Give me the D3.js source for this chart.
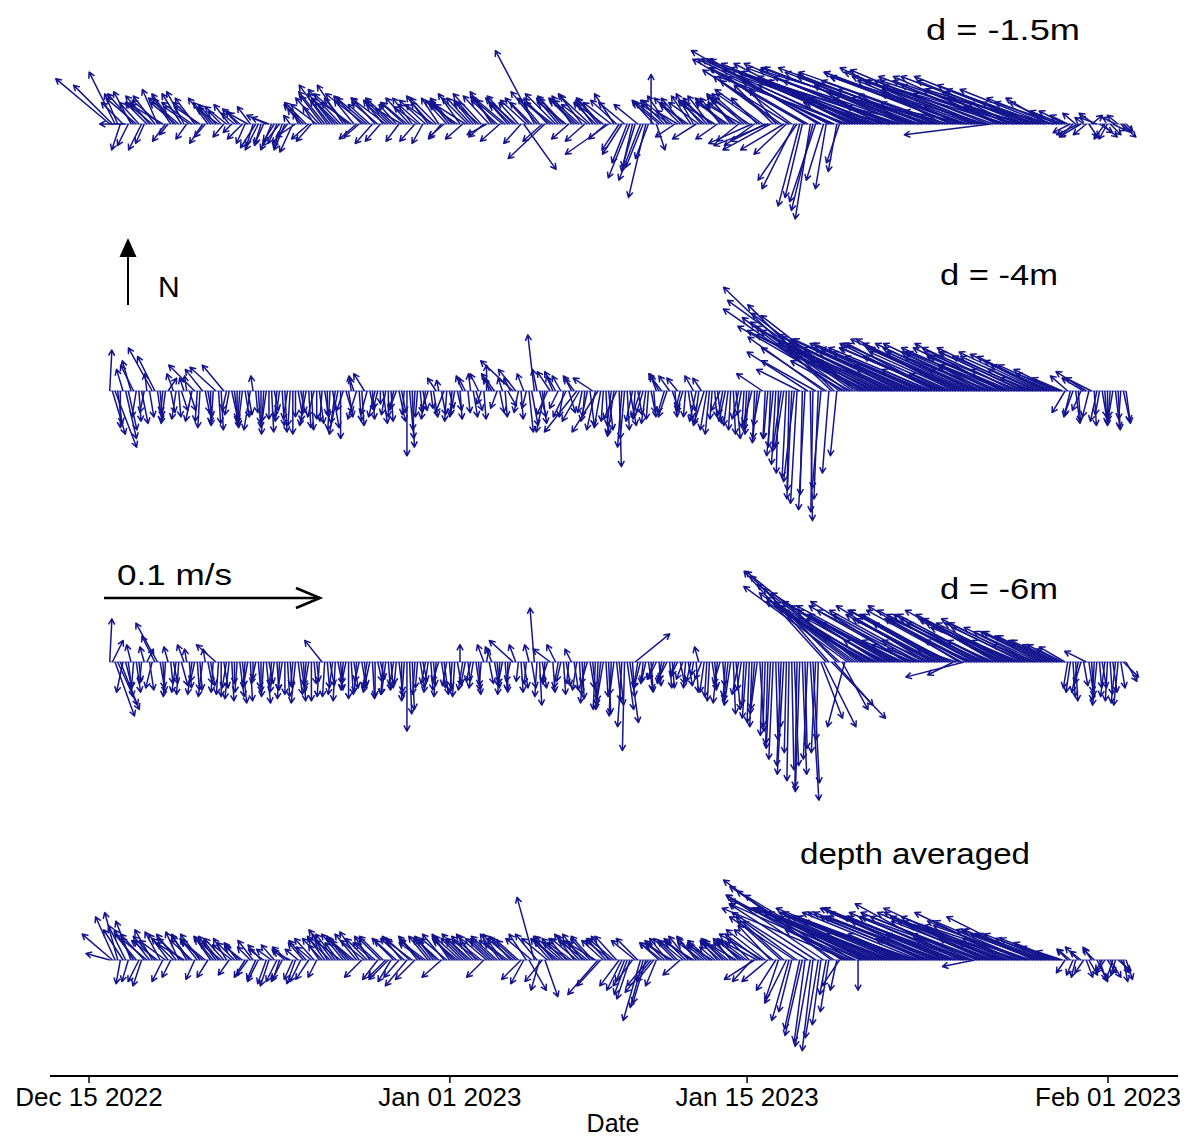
<!DOCTYPE html>
<html><head><meta charset="utf-8">
<script src="https://cdn.jsdelivr.net/npm/d3@7"></script>
<style>
body{margin:0;background:#fff}
svg{display:block}
text{font-family:"Liberation Sans",Arial,Helvetica,sans-serif;fill:#000}
</style>
</head><body>
<svg id="c" width="1188" height="1139"></svg>
<script>
// ---- data: current vectors (mm/s) ----
// main arrays: 00/06/12/18 h samples from 2022-12-16; "m" arrays: 03/09/15/21 h samples
const startDate = new Date(2022, 11, 16, 0, 0);
const stepHours = 6;
const midOffsetHours = 3;
const tickDates = [new Date(2022,11,15), new Date(2023,0,1), new Date(2023,0,15), new Date(2023,1,1)];
const panelLabels = ["d = -1.5m", "d = -4m", "d = -6m", "depth averaged"];
const scaleSpeed = 100; // mm/s = 0.1 m/s
const scaleLabel = "0.1 m/s";
const xLabel = "Date";

const u1 = [
-25,-12,-4,-12,-8,-14,-6,-10,
-12,-7,-15,-4,-10,-14,-8,-12,
-9,-12,-5,-8,-8,-6,-10,-4,
-5,-7,-9,-3,-6,-4,-8,-5,
-8,-5,-3,-9,-6,-10,-7,-12,
-10,-13,-8,-14,-12,-16,-9,-7,
-18,-10,-11,-7,-16,-12,-8,-12,
-12,-9,-11,-5,-10,-13,-8,-7,
-9,-12,-10,-14,-11,-8,-13,-9,
-10,-12,-14,-8,-12,-9,15,-11,
-18,-10,-17,-12,-14,-10,-13,-9,
-13,-11,-12,-8,-10,-12,-20,-9,
-8,-12,-10,-6,-10,-8,0,4,
-12,-9,-14,-10,-10,-13,-8,-14,
-12,-10,-15,-9,-14,-11,-13,-16,
-16,-20,-12,-22,-25,-18,-30,-20,
-40,-15,-10,-52,-7,-12,-60,-5,
-62,-4,-65,-60,-55,-70,-25,-60,
-70,-30,-65,-40,-60,-75,-22,-68,
-72,-35,-60,-80,-65,-28,-45,-60,
-55,-62,-30,-50,-60,-72,-40,-25,
-50,-66,-20,-62,-60,-30,-55,-52,
-45,-20,-50,-30,-12,-8,-6,-10,
-6,5,-8,7,-4,6,-5,4];
const v1 = [
21,24,-12,0,15,12,-12,10,
10,16,9,-5,14,12,15,8,
12,8,-6,10,9,6,8,-4,
6,-7,5,-10,-12,-9,3,-8,
-10,-12,4,-6,7,10,-8,9,
13,18,10,14,18,14,11,-6,
14,9,12,-8,12,11,9,7,
10,12,8,-9,13,9,12,-6,
11,10,14,9,12,10,14,-5,
15,11,12,9,13,10,-21,12,
34,12,-16,10,14,12,10,13,
12,14,9,11,12,9,-14,14,
-12,10,-25,-20,-26,-34,23,-12,
10,13,11,6,12,9,14,10,
11,13,9,12,12,14,10,9,
14,-9,12,16,-10,18,22,-12,
25,-30,-38,30,-44,-36,34,-30,
30,-22,30,22,28,30,12,24,
25,18,28,10,20,24,14,26,
26,8,23,25,22,16,12,24,
26,22,6,20,25,22,-5,15,
22,20,10,18,20,8,22,16,
16,12,12,10,6,-4,5,-6,
-5,4,3,-6,-7,-3,4,-4];
const u1m = [
-18,-6,-10,-5,-12,-9,-4,-11,
-10,-13,-6,-8,-12,-9,-5,-14,
-11,-6,-9,-7,-10,-5,-7,-6,
-8,-4,-6,-7,-3,-9,-5,-4,
-4,-7,-6,-2,-9,-8,-5,-11,
-12,-9,-11,-15,-10,-14,-8,-13,
-14,-8,-12,-9,-10,-13,-6,-11,
-11,-7,-10,-12,-9,-12,-6,-10,
-10,-13,-8,-12,-9,-11,-7,-12,
-11,-9,-13,-10,-14,-8,-12,-10,
-12,-9,-11,-13,-10,-12,-8,-11,
-12,-9,-14,-10,-11,-8,-13,-12,
-9,-7,-5,-11,-8,-6,-10,-12,
-11,-13,-9,-12,-12,-9,-11,-10,
-11,-13,-10,-12,-15,-12,-10,-14,
-18,-14,-20,-16,-22,-12,-28,-15,
-30,-18,-8,-45,-10,-50,-8,-40,
-58,-6,-40,-20,-62,-30,-50,-65,
-50,-65,-25,-55,-70,-35,-58,-45,
-62,-40,-70,-25,-55,-68,-32,-58,
-48,-66,-22,-58,-64,-35,-55,-45,
-58,-28,-62,-45,-50,-60,-25,-48,
-40,-30,-22,-15,-8,-6,-10,-4,
4,-7,6,-5,5,-6,7,3];
const v1m = [
18,14,10,-10,14,10,-9,13,
13,11,-8,12,10,14,-7,10,
10,-9,12,8,7,-6,9,5,
7,-9,8,-11,-10,4,-12,-9,
-11,-9,-13,5,9,-7,8,12,
15,11,12,16,12,10,-7,13,
12,-9,10,11,9,12,-8,10,
12,-8,9,11,10,12,-7,11,
12,9,-7,12,11,10,-6,13,
13,-8,11,10,12,-9,11,10,
15,-8,12,10,12,13,-7,11,
11,-8,13,10,12,-7,10,11,
-14,-18,-22,9,-20,-16,11,10,
11,9,-6,12,10,13,-7,11,
12,10,-7,11,10,13,-8,12,
12,-10,14,-8,-12,16,20,-14,
22,-26,-34,26,-40,30,-26,20,
26,-18,18,10,28,14,22,26,
20,24,12,22,26,15,20,18,
24,16,26,10,20,24,14,22,
20,24,8,22,24,14,20,18,
22,12,20,16,20,22,10,18,
16,12,10,6,4,-6,-5,3,
-6,5,-4,-7,-5,3,-6,-3];

const u2 = [
1,10,0,5,-4,-2,3,-1,
-11,2,-1,4,-3,1,-2,3,
-12,-1,2,0,-12,1,-2,3,
0,-2,2,-1,1,-1,0,2,
-2,1,-1,0,2,-3,1,0,
-1,0,3,-4,-3,2,-2,1,
-5,2,-3,0,-2,1,-3,2,
0,1,-1,2,-3,2,-1,-4,
2,-2,1,-3,-1,3,-2,0,
-4,-3,-2,4,-15,-2,-3,2,
-3,3,-4,-6,-5,-4,-6,-3,
-15,-2,-3,-9,-12,-1,2,-3,
1,-2,3,-1,-4,-2,2,-3,
-6,-4,3,-5,-3,2,-4,-2,
-5,-2,1,-4,-3,-1,2,-2,
-1,-4,-2,-12,-2,-3,-1,-4,
-1,-5,-20,-3,1,-25,-4,-30,
-50,-3,-55,-45,-58,-45,-50,-52,
-40,-55,-45,-50,-48,-20,-52,-45,
-45,-50,-38,-48,-42,-48,-18,-45,
-50,-44,-38,-46,-45,-22,-40,-42,
-40,-46,-38,-44,-38,-42,-15,-36,
-34,-30,-26,-20,-6,-3,2,-4,
-14,-12,-3,2,0,-2,1,3];
const v2 = [
19,-26,-17,-22,14,-12,-15,8,
20,-14,-10,6,8,-12,6,-9,
12,-17,-10,-15,11,-18,-9,-14,
-13,-16,-11,7,-15,-20,-13,-9,
-14,-19,-16,-12,-10,-16,-18,-13,
-14,-11,-17,-20,-9,-12,6,-14,
8,-9,-12,-6,-11,-14,-8,-10,
-30,-26,-12,-9,-9,-12,5,-10,
-8,-11,-13,6,8,-9,-6,12,
6,-8,6,-7,14,-10,8,-19,
26,-12,-19,9,9,7,-12,6,
-19,-10,-14,6,-19,-14,-18,-21,
-35,-22,-16,-13,-12,-15,-10,8,
8,-12,-9,6,-10,-13,7,-15,
-16,-20,-12,-9,-14,-18,-22,-11,
-18,-15,-22,8,-22,-30,-38,-26,
-50,-42,10,-55,-60,14,-45,20,
48,-30,38,32,42,35,30,26,
20,28,22,25,22,10,24,20,
18,22,16,20,22,20,8,24,
24,20,18,22,20,12,16,18,
22,18,16,20,18,20,6,16,
17,14,12,8,-10,-12,-15,-9,
9,6,-14,-12,-16,-12,-18,-14];
const u2m = [
6,2,-3,4,-6,1,-2,2,
-8,1,-2,2,-2,3,-1,-3,
-1,-8,2,-1,1,-10,-2,2,
-1,2,-3,1,0,-2,1,-1,
1,-2,0,2,-1,1,-3,2,
2,-1,-2,0,3,-1,-4,1,
-3,1,-2,2,0,-2,3,-1,
2,-1,1,-2,1,-4,2,-1,
-1,2,-3,1,2,-4,1,-2,
-6,2,1,-3,-8,1,-2,3,
-2,2,-5,-3,-4,-2,3,-5,
-8,-1,2,-4,-3,1,-2,-6,
-2,1,-3,2,-3,-1,1,-4,
-3,-5,1,-2,-1,2,-3,-4,
-3,-1,2,-2,-2,1,-3,-1,
-2,-1,-3,-1,-1,-2,-4,-2,
-2,-3,-1,-28,-1,-2,-35,-3,
-40,-45,-25,-52,-48,-30,-55,-40,
-46,-30,-50,-42,-44,-52,-25,-48,
-40,-48,-22,-44,-46,-38,-50,-40,
-44,-48,-20,-42,-46,-40,-25,-45,
-42,-38,-20,-44,-40,-36,-22,-38,
-32,-28,-20,-14,-8,-4,1,-10,
-3,1,-2,1,-1,2,-1,2];
const v2m = [
-20,-15,10,-18,12,-14,-10,-12,
16,-12,-15,-10,-13,-9,7,-14,
-14,10,-12,-16,-15,12,-11,-17,
-15,-12,-18,-10,-17,-14,-19,-12,
-16,-13,-20,-11,-14,-17,-12,-15,
-12,-18,-15,-22,-10,7,-13,-16,
-11,-13,-8,-15,-12,-9,-14,-11,
-22,-18,-10,-13,-8,6,-11,-14,
-12,-9,7,-10,-12,8,-13,6,
8,-10,-12,6,10,-13,-8,-16,
10,-15,-11,7,-8,-12,-10,7,
-14,-12,-16,-18,-17,-20,-16,-13,
-26,-18,-14,-11,-10,-13,-12,7,
-10,7,-12,-8,-12,-9,-14,6,
-18,-13,-15,-11,-16,-20,-13,-17,
-20,-24,-16,-22,-26,-34,-28,-40,
-46,-52,-48,18,-56,-50,25,-38,
40,34,14,30,36,16,28,22,
22,14,26,18,20,24,12,22,
18,20,10,22,20,16,22,18,
20,22,10,18,22,18,12,20,
20,16,10,18,18,16,10,18,
16,12,10,6,7,-11,-14,6,
-12,-16,-11,-15,-14,-17,-13,-15];

const u3 = [
1,9,8,3,-2,2,-1,3,
-3,-10,1,-2,2,-1,-3,1,
-2,1,-1,2,-9,0,-2,1,
-1,2,-2,0,1,-1,2,-2,
-1,0,1,-2,2,-1,0,1,
-8,1,-2,2,-1,0,2,-2,
1,-3,0,2,-2,1,-1,0,
0,1,-1,2,-2,1,-3,2,
1,-1,0,-2,-2,2,-1,1,
-3,1,-2,0,-11,-1,2,-2,
-2,1,-1,-8,-4,-2,2,-3,
-2,1,-3,2,-1,-3,1,-2,
2,-1,4,16,-3,-2,1,-4,
-2,-4,1,-3,-3,2,-1,-2,
-2,-1,1,-3,-1,-3,2,-2,
-2,-1,-3,-1,-1,-2,1,-3,
-1,2,-2,1,4,-2,10,-38,
25,-40,12,-48,-40,-52,-45,-38,
-42,-50,-36,-46,-40,-48,-44,-18,
-46,-16,-42,-40,-38,-44,-40,-12,
-42,-27,-38,-45,-40,-44,-20,-42,
-38,-42,-35,-40,-36,-40,-32,-30,
-28,-24,-20,-15,-12,-2,1,-3,
-10,1,-2,2,-1,2,-2,7];
const v3 = [
20,-25,-20,-12,8,-14,-10,6,
-12,18,-14,7,-10,-15,8,-12,
-9,-13,6,-11,8,-16,-12,-18,
-14,-19,-11,-8,-12,-16,-10,-14,
-17,-15,-12,-19,-14,-11,-18,-9,
10,-12,-15,-10,-13,-17,-12,-9,
-11,-14,-16,-8,-15,-12,-10,-18,
-32,-22,-12,-9,-14,-11,-9,-15,
-12,-16,8,-10,-9,-13,-11,6,
7,-12,-10,-14,10,-9,-12,8,
25,-20,-10,6,8,-9,-11,6,
-13,-17,-10,-20,-22,-18,-24,-15,
-20,-41,-28,13,-12,-9,-14,-8,
-10,-8,-12,-6,-8,-11,-6,7,
-14,-18,-12,-10,-16,-20,-22,-13,
-26,-30,-22,-34,-38,-45,-30,-52,
-55,-48,-60,-40,-64,-42,-26,42,
-26,40,-22,35,30,42,28,22,
24,32,20,26,22,26,28,8,
24,6,26,22,20,24,22,-6,
26,-7,20,24,22,20,10,24,
20,22,18,16,18,20,16,14,
14,12,10,8,7,-14,-18,-10,
5,-16,-20,-12,-18,-14,-20,-7];
const u3m = [
5,10,-3,2,-1,1,-2,2,
-6,2,-1,1,-2,3,-1,-2,
1,-2,2,-1,-1,2,-2,0,
2,-1,1,-2,0,2,-1,1,
-2,1,-1,2,1,-2,1,-1,
-1,2,-1,1,-2,1,-1,2,
-2,1,2,-1,1,-2,2,-1,
1,-1,2,-2,1,-1,2,-2,
-1,2,-2,1,-2,1,-3,2,
2,-1,1,-2,-3,1,-1,2,
-1,2,-3,1,-2,1,-1,2,
1,-2,2,-1,-2,1,-1,2,
-2,3,1,-2,-1,2,-3,1,
-3,1,-2,2,-1,-2,1,-3,
-1,2,-2,1,-2,1,-3,-1,
-1,-2,2,-1,-2,1,-2,-1,
1,-1,2,-2,3,-1,15,-30,
18,-30,-8,-42,-35,-48,-20,-42,
-38,-46,-20,-44,-42,-38,-46,-24,
-40,-44,-22,-38,-42,-40,-36,-18,
-44,-38,-22,-42,-38,-42,-40,-36,
-36,-40,-20,-38,-34,-38,-20,-28,
-24,-20,-16,-12,-2,1,-3,2,
2,-1,1,-2,1,-2,2,5];
const v3m = [
10,-22,-14,-16,-12,-9,7,-13,
12,-12,-16,-10,-14,-11,6,-15,
-13,-16,-10,-14,-15,-12,-17,-10,
-16,-12,-18,-10,-14,-19,-11,-13,
-13,-16,-11,-15,-18,-12,-10,-16,
-16,-11,-18,-13,-10,-15,-14,-12,
-12,-17,-9,-15,-13,-11,-16,-14,
-24,-15,-12,-10,-13,-16,-12,-11,
-14,-11,-13,-9,-12,-15,8,-10,
-11,-15,-13,-9,8,-14,-10,-12,
-16,-12,-9,-14,-12,-15,-10,-13,
-15,-19,-12,-22,-20,-16,-25,-18,
-30,-22,-16,-12,-10,-13,-8,-11,
-9,-12,-7,-10,-12,-9,-14,-8,
-16,-13,-19,-11,-18,-24,-15,-20,
-28,-24,-32,-30,-40,-36,-48,-42,
-50,-58,-52,-45,-56,-36,-30,34,
-20,28,-30,32,26,36,12,26,
20,28,10,24,22,18,26,10,
22,24,10,20,24,22,18,6,
24,20,10,22,20,22,18,20,
18,20,10,16,16,18,8,14,
12,10,8,6,-12,-16,-14,-11,
-14,-18,-12,-16,-15,-19,-12,-9];

const u4 = [
-11,-9,-2,-8,-7,-10,-4,-12,
-8,-12,-5,-9,-10,-6,-13,-8,
-4,-9,-11,-7,-8,-10,-6,-9,
-6,-8,-5,-7,-5,-7,-4,-6,
-3,-6,-8,-4,-5,-8,-7,-4,
-9,-7,-11,-6,-10,-8,-12,-9,
-11,-7,-9,-10,-8,-6,-10,-9,
-10,-12,-8,-11,-9,-7,-11,-10,
-8,-10,-12,-9,-11,-9,-10,-13,
-10,-12,-9,-11,-12,-10,-6,8,
-8,-4,6,-9,-10,-12,-8,-11,
-12,-9,-11,-10,-14,-10,-8,-12,
-9,-4,-6,-11,-8,-6,-12,-5,
-10,-8,-12,-9,-11,-9,-13,-10,
-8,-10,-7,-9,-10,-8,-12,-11,
-12,-9,-15,-20,-12,-18,-6,-22,
-8,-30,-7,-5,-7,-40,-4,-3,
-50,-3,-52,-58,-50,0,-62,-48,
-55,-25,-45,-58,-52,-48,-60,-50,
-58,-20,-55,-50,-50,-55,-45,-60,
-48,-56,-25,-15,-55,-50,-46,-52,
-48,-22,-45,-50,-44,-48,-40,-38,
-38,-30,-25,-18,-4,-6,-2,-5,
3,-4,5,-3,4,-3,6,2];
const v4 = [
3,20,-11,16,18,12,-12,10,
14,9,-10,12,10,13,8,11,
-9,12,9,10,11,8,10,7,
8,6,-7,9,-10,5,-12,7,
-9,5,4,-11,-10,9,6,-8,
10,12,14,8,12,9,10,13,
9,11,8,10,-8,-10,9,11,
-12,9,10,8,11,9,10,12,
12,10,11,9,10,12,8,11,
9,11,12,8,10,9,-11,-14,
29,-14,-17,10,9,11,10,8,
10,12,9,11,-16,9,11,10,
-12,-10,-18,9,-28,-20,-15,-12,
8,10,7,9,9,11,8,10,
7,9,6,8,8,10,7,9,
9,-10,8,12,-10,14,-18,20,
-28,20,-32,-38,-40,26,-30,-16,
37,-14,34,24,30,-14,28,22,
24,12,20,22,22,20,24,18,
20,10,22,24,22,20,18,24,
26,20,10,-3,20,22,18,24,
18,8,22,16,18,16,20,14,
14,12,10,6,-6,5,-8,4,
-8,6,-10,-5,-6,-9,-5,-10];
const u4m = [
-14,-6,-9,-3,-9,-5,-11,-7,
-10,-7,-12,-4,-9,-11,-7,-10,
-8,-10,-5,-9,-7,-9,-5,-8,
-7,-5,-6,-4,-6,-4,-7,-5,
-5,-7,-4,-6,-7,-6,-9,-5,
-8,-10,-9,-12,-9,-11,-10,-8,
-10,-9,-7,-11,-9,-10,-7,-11,
-11,-9,-10,-12,-8,-10,-9,-12,
-9,-11,-10,-12,-10,-12,-8,-11,
-11,-9,-12,-10,-11,-9,-8,-12,
-10,-8,-12,-9,-11,-10,-12,-9,
-10,-12,-9,-13,-11,-9,-12,-10,
-7,-6,-9,-10,-6,-10,-8,-9,
-9,-11,-10,-8,-10,-12,-9,-11,
-9,-11,-8,-10,-11,-9,-10,-13,
-10,-14,-16,-18,-15,-9,-20,-10,
-6,-25,-8,-35,-5,-6,-45,-4,
-45,-8,-55,-30,-58,-52,-25,-55,
-50,-58,-30,-52,-55,-46,-28,-54,
-54,-48,-25,-56,-52,-58,-30,-50,
-52,-50,-28,-54,-52,-48,-25,-50,
-46,-50,-24,-48,-42,-45,-30,-36,
-32,-26,-20,-12,-5,-3,-6,-4,
4,-5,3,-4,5,-2,4,3];
const v4m = [
12,22,14,-10,14,-10,12,9,
11,13,9,-8,12,10,12,9,
10,9,-8,11,9,10,-7,8,
7,-8,6,-9,7,-11,5,-10,
-10,6,-9,5,8,-9,10,7,
11,10,12,9,11,10,12,-8,
10,8,-9,11,-9,10,-8,10,
10,-9,11,9,10,11,-8,10,
11,9,10,12,11,9,-8,10,
10,12,9,11,10,-9,12,10,
12,-10,10,11,9,10,8,12,
11,9,10,8,-12,10,9,11,
-14,-16,-12,10,-22,-12,-10,8,
9,8,10,-7,10,9,11,8,
8,7,9,10,9,8,10,9,
10,-9,12,14,16,-14,18,-20,
-24,18,-35,22,-42,-36,30,-24,
32,-12,30,14,26,24,12,24,
22,24,12,20,22,18,12,20,
22,20,10,22,20,24,12,20,
22,20,12,22,20,22,10,20,
18,20,10,16,18,16,12,14,
12,10,8,4,5,-7,6,-6,
-7,5,-9,-6,-8,-7,-6,-9];

// ---- drawing ----
const svg = d3.select("#c");
const arrowColor = "#14148e";

const x = d3.scaleTime()
  .domain([tickDates[0], tickDates[tickDates.length - 1]])
  .range([88.5, 1107.5]);
// vector length scale: mm/s -> px
const speed = d3.scaleLinear().domain([0, scaleSpeed]).range([0, 216]);

const series = [[u1, v1, u1m, v1m], [u2, v2, u2m, v2m], [u3, v3, u3m, v3m], [u4, v4, u4m, v4m]];
const layout = [
  {base: 124, lx: 926, ly: 40, lw: 154},
  {base: 391, lx: 940, ly: 285, lw: 118},
  {base: 662, lx: 940, ly: 599, lw: 118},
  {base: 960, lx: 800, ly: 864, lw: 230}
];

function arrowPath(x0, y0, dx, dy, hl, hw) {
  const L = Math.hypot(dx, dy);
  const x1 = x0 + dx, y1 = y0 + dy;
  let d = `M${x0.toFixed(2)},${y0.toFixed(2)}L${x1.toFixed(2)},${y1.toFixed(2)}`;
  if (L > 0.5) {
    const a = Math.atan2(dy, dx);
    const h = Math.min(hl, Math.max(3, L * 0.6));
    d += `M${(x1 - h * Math.cos(a - hw)).toFixed(2)},${(y1 - h * Math.sin(a - hw)).toFixed(2)}` +
         `L${x1.toFixed(2)},${y1.toFixed(2)}` +
         `L${(x1 - h * Math.cos(a + hw)).toFixed(2)},${(y1 - h * Math.sin(a + hw)).toFixed(2)}`;
  }
  return d;
}

series.forEach(([u, v, um, vm], p) => {
  const lay = layout[p];
  const data = [];
  d3.range(Math.min(u.length, v.length)).forEach(i =>
    data.push({t: d3.timeHour.offset(startDate, i * stepHours), u: u[i], v: v[i]}));
  d3.range(Math.min(um.length, vm.length)).forEach(i =>
    data.push({t: d3.timeHour.offset(startDate, i * stepHours + midOffsetHours), u: um[i], v: vm[i]}));
  data.sort((a, b) => a.t - b.t);
  const g = svg.append("g").attr("class", "panel");
  const ext = d3.extent(data, d => d.t);
  g.append("line")
    .attr("x1", x(ext[0])).attr("x2", x(ext[1]))
    .attr("y1", lay.base).attr("y2", lay.base)
    .attr("stroke", arrowColor).attr("stroke-opacity", 0.5).attr("stroke-width", 1.5);
  g.selectAll("path.vec").data(data).join("path")
    .attr("class", "vec")
    .attr("d", d => arrowPath(x(d.t), lay.base, speed(d.u), -speed(d.v), 6.5, 0.5))
    .attr("fill", "none")
    .attr("stroke", arrowColor)
    .attr("stroke-width", 1.5)
    .attr("stroke-linejoin", "round");
  svg.append("text")
    .attr("x", lay.lx).attr("y", lay.ly)
    .attr("font-size", 30)
    .attr("textLength", lay.lw).attr("lengthAdjust", "spacingAndGlyphs")
    .text(panelLabels[p]);
});

// North arrow
const nG = svg.append("g");
nG.append("line").attr("x1", 128).attr("x2", 128).attr("y1", 305).attr("y2", 252)
  .attr("stroke", "#000").attr("stroke-width", 2);
nG.append("path").attr("d", "M128,238L136.5,257L119.5,257Z").attr("fill", "#000");
nG.append("text").attr("x", 158).attr("y", 297).attr("font-size", 30).text("N");

// velocity scale arrow
const sx0 = 104, sy = 598, sx1 = sx0 + speed(scaleSpeed);
const sG = svg.append("g");
sG.append("line").attr("x1", sx0).attr("x2", sx1).attr("y1", sy).attr("y2", sy)
  .attr("stroke", "#000").attr("stroke-width", 2.5);
sG.append("path").attr("d", `M${sx1 - 24},${sy - 10}L${sx1},${sy}L${sx1 - 24},${sy + 10}`)
  .attr("fill", "none").attr("stroke", "#000").attr("stroke-width", 2.5);
sG.append("text").attr("x", 117).attr("y", 585).attr("font-size", 30)
  .attr("textLength", 115).attr("lengthAdjust", "spacingAndGlyphs").text(scaleLabel);

// time axis
const axisY = 1076;
const axis = d3.axisBottom(x)
  .tickValues(tickDates)
  .tickFormat(d3.timeFormat("%b %d %Y"))
  .tickSize(7).tickSizeOuter(0).tickPadding(5);
const ag = svg.append("g").attr("transform", `translate(0,${axisY})`).call(axis);
ag.select(".domain").remove();
ag.selectAll(".tick line").attr("stroke", "#000").attr("stroke-width", 1.5);
ag.selectAll(".tick text").attr("font-size", 26)
  .attr("font-family", "'Liberation Sans',Arial,sans-serif").attr("fill", "#000");
svg.append("line").attr("x1", 50).attr("x2", 1178).attr("y1", axisY).attr("y2", axisY)
  .attr("stroke", "#000").attr("stroke-width", 2);
svg.append("text").attr("x", 613).attr("y", 1132).attr("font-size", 25)
  .attr("text-anchor", "middle").text(xLabel);
</script>
</body></html>
